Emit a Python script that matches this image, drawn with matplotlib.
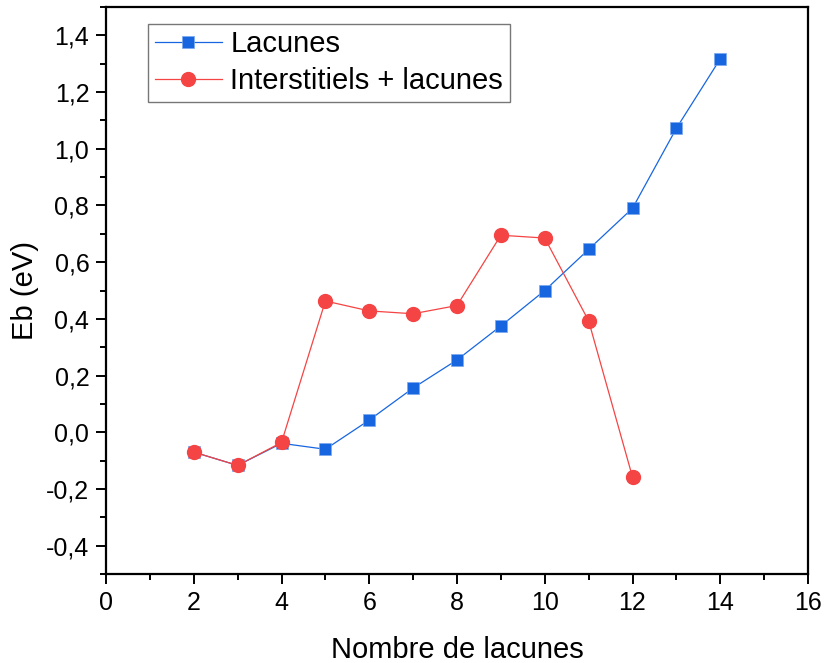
import matplotlib
matplotlib.use("Agg")
import matplotlib.pyplot as plt
from matplotlib.ticker import MultipleLocator, FuncFormatter

plt.rcParams['font.family'] = ['Liberation Sans', 'DejaVu Sans']

x_lac = [2, 3, 4, 5, 6, 7, 8, 9, 10, 11, 12, 13, 14]
y_lac = [-0.070, -0.117, -0.039, -0.060, 0.043, 0.156, 0.255, 0.375, 0.500, 0.645, 0.790, 1.072, 1.317]
x_int = [2, 3, 4, 5, 6, 7, 8, 9, 10, 11, 12]
y_int = [-0.070, -0.117, -0.036, 0.463, 0.428, 0.418, 0.447, 0.695, 0.685, 0.393, -0.158]

fig = plt.figure(figsize=(8.24, 6.63), dpi=100)
ax = fig.add_axes([106/824, 1 - 574/663, (808-106)/824, (574-7)/663])

blue = '#1766e0'
red = '#f54444'
ax.plot(x_lac, y_lac, color=blue, lw=0.9, marker='s', ms=9, mec='#7aa8ee', mew=0.5, mfc=blue, label='Lacunes')
ax.plot(x_int, y_int, color=red, lw=0.9, marker='o', ms=10, mec=red, mfc=red, label='Interstitiels + lacunes')

ax.set_xlim(0, 16)
ax.set_ylim(-0.5, 1.5)
ax.xaxis.set_major_locator(MultipleLocator(2))
ax.xaxis.set_minor_locator(MultipleLocator(1))
ax.yaxis.set_major_locator(MultipleLocator(0.2))
ax.yaxis.set_minor_locator(MultipleLocator(0.1))
ax.yaxis.set_major_formatter(FuncFormatter(lambda v, p: f"{v:.1f}".replace('.', ',').replace('-0,0', '0,0')))

for s in ax.spines.values():
    s.set_linewidth(1.6)
ax.tick_params(which='major', direction='out', length=7, width=1.4, labelsize=18, pad=5)
ax.tick_params(which='minor', direction='out', length=4, width=1.4)

ax.set_xlabel('Nombre de lacunes', fontsize=21, labelpad=15)
ax.set_ylabel('Eb (eV)', fontsize=21, labelpad=5)

leg = ax.legend(loc='upper left', bbox_to_anchor=(0.06, 0.97), fontsize=21, frameon=True,
                fancybox=False, edgecolor='#555555', handlelength=2.3, handletextpad=0.3,
                borderpad=0.22, labelspacing=0.3, borderaxespad=0)
leg.get_frame().set_linewidth(1.0)

fig.savefig('out.png', dpi=100)
